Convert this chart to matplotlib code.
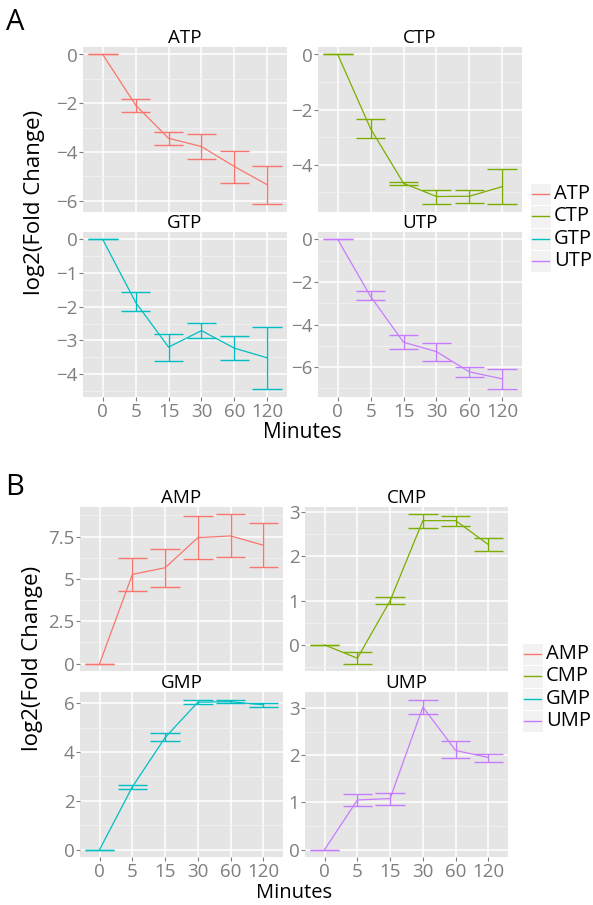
import matplotlib
matplotlib.use("Agg")
import matplotlib.pyplot as plt
from matplotlib.patches import Rectangle
from matplotlib.lines import Line2D
import numpy as np

plt.rcParams['font.family'] = ['Open Sans', 'DejaVu Sans']

minutes = ['0', '5', '15', '30', '60', '120']

# Panel A (triphosphates)
atp_mean = [0, -2.08, -3.44, -3.78, -4.60, -5.35]
atp_lo = [0, -2.38, -3.72, -4.30, -5.29, -6.16]
atp_hi = [0, -1.83, -3.20, -3.27, -3.95, -4.56]

ctp_mean = [0, -2.70, -4.68, -5.16, -5.15, -4.80]
ctp_lo = [0, -3.03, -4.74, -5.42, -5.41, -5.45]
ctp_hi = [0, -2.36, -4.62, -4.92, -4.92, -4.15]

gtp_mean = [0, -1.87, -3.20, -2.71, -3.23, -3.52]
gtp_lo = [0, -2.14, -3.62, -2.94, -3.59, -4.46]
gtp_hi = [0, -1.56, -2.81, -2.47, -2.88, -2.60]

utp_mean = [0, -2.68, -4.83, -5.27, -6.22, -6.55]
utp_lo = [0, -2.84, -5.17, -5.69, -6.46, -7.05]
utp_hi = [0, -2.41, -4.47, -4.88, -5.97, -6.10]

# Panel B (monophosphates)
amp_mean = [0, 5.27, 5.66, 7.44, 7.54, 6.99]
amp_lo = [0, 4.31, 4.54, 6.15, 6.27, 5.68]
amp_hi = [0, 6.23, 6.78, 8.69, 8.81, 8.32]

cmp_mean = [0, -0.30, 1.00, 2.81, 2.81, 2.27]
cmp_lo = [0, -0.42, 0.92, 2.64, 2.70, 2.13]
cmp_hi = [0, -0.17, 1.08, 2.95, 2.91, 2.41]

gmp_mean = [0, 2.57, 4.59, 6.04, 6.06, 5.93]
gmp_lo = [0, 2.50, 4.45, 5.95, 6.01, 5.84]
gmp_hi = [0, 2.66, 4.77, 6.15, 6.14, 6.00]

ump_mean = [0, 1.05, 1.08, 3.02, 2.10, 1.95]
ump_lo = [0, 0.93, 0.95, 2.87, 1.93, 1.86]
ump_hi = [0, 1.17, 1.20, 3.18, 2.29, 2.03]

colors = ['#F8766D', '#7CAE00', '#00BFC4', '#C77CFF']
names_a = ['ATP', 'CTP', 'GTP', 'UTP']
names_b = ['AMP', 'CMP', 'GMP', 'UMP']

W, H = 593, 905
fig = plt.figure(figsize=(W / 100, H / 100), dpi=100)


def add_ax(x0, y0, x1, y1):
    return fig.add_axes([x0 / W, 1 - y1 / H, (x1 - x0) / W, (y1 - y0) / H])


def panel(box, title, mean, lo, hi, color, yticks, ytlabels, show_x):
    ax = add_ax(*box)
    ax.set_facecolor('#E5E5E5')
    x = np.arange(1, len(minutes) + 1)
    lo = np.array(lo); hi = np.array(hi)
    ax.vlines(x, lo, hi, color=color, lw=1.0, zorder=3)
    ax.hlines(lo, x - 0.45, x + 0.45, color=color, lw=1.0, zorder=3)
    ax.hlines(hi, x - 0.45, x + 0.45, color=color, lw=1.0, zorder=3)
    ax.plot(x, mean, color=color, lw=0.9, zorder=4)
    ax.set_xticks(x)
    ax.set_yticks(yticks)
    ax.set_yticklabels(ytlabels)
    ym = [(yticks[i] + yticks[i + 1]) / 2 for i in range(len(yticks) - 1)]
    step = yticks[1] - yticks[0]
    ym = ym + [yticks[0] - step / 2, yticks[-1] + step / 2]
    ax.set_yticks(ym, minor=True)
    ymin, ymax = min(lo.min(), min(mean)), max(hi.max(), max(mean))
    pad = 0.05 * (ymax - ymin)
    ax.set_ylim(ymin - pad, ymax + pad)
    ax.set_xlim(0.4, len(minutes) + 0.6)
    ax.grid(which='major', color='white', lw=1.1, zorder=1)
    ax.grid(which='minor', axis='y', color='#F2F2F2', lw=0.6, zorder=0)
    ax.tick_params(which='minor', length=0)
    ax.set_axisbelow(True)
    for s in ax.spines.values():
        s.set_visible(False)
    ax.tick_params(axis='y', length=3, color='#7F7F7F', labelcolor='#7F7F7F',
                   labelsize=13.5, pad=1, width=0.8)
    if show_x:
        ax.set_xticklabels(minutes)
        ax.tick_params(axis='x', length=3, color='#7F7F7F', labelcolor='#7F7F7F',
                       labelsize=13.5, pad=1, width=0.8)
    else:
        ax.tick_params(axis='x', length=0, labelbottom=False)
    ax.set_title(title, fontsize=13.5, pad=1, color='black')
    return ax


def legend(x0, y0, names):
    kh = 22.3
    lax = add_ax(x0, y0, x0 + 63, y0 + kh * 4)
    lax.set_xlim(0, 63)
    lax.set_ylim(kh * 4, 0)
    lax.axis('off')
    for i, (n, c) in enumerate(zip(names, colors)):
        lax.add_patch(Rectangle((0, i * kh), 21, kh, facecolor='#F2F2F2',
                                edgecolor='white', lw=0.8))
        lax.add_line(Line2D([2, 19], [i * kh + kh / 2] * 2, color=c, lw=1.0))
        lax.text(24, i * kh + kh / 2, n, fontsize=14.5, va='center', ha='left')


# Panel A
mA = [atp_mean, ctp_mean, gtp_mean, utp_mean]
lA = [atp_lo, ctp_lo, gtp_lo, utp_lo]
hA = [atp_hi, ctp_hi, gtp_hi, utp_hi]
boxesA = [(83, 47, 287, 212), (318, 47, 522, 212), (83, 232, 287, 397), (318, 232, 522, 397)]
yt_A = [([-6, -4, -2, 0], ['\u22126', '\u22124', '\u22122', '0']),
        ([-4, -2, 0], ['\u22124', '\u22122', '0']),
        ([-4, -3, -2, -1, 0], ['\u22124', '\u22123', '\u22122', '\u22121', '0']),
        ([-6, -4, -2, 0], ['\u22126', '\u22124', '\u22122', '0'])]
for i in range(4):
    panel(boxesA[i], names_a[i], mA[i], lA[i], hA[i], colors[i],
          yt_A[i][0], yt_A[i][1], show_x=(i >= 2))
legend(530, 183, names_a)

# Panel B
mB = [amp_mean, cmp_mean, gmp_mean, ump_mean]
lB = [amp_lo, cmp_lo, gmp_lo, ump_lo]
hB = [amp_hi, cmp_hi, gmp_hi, ump_hi]
boxesB = [(80, 507, 283, 671), (305, 507, 508, 671), (80, 692, 283, 857), (305, 692, 508, 857)]
yt_B = [([0, 2.5, 5, 7.5], ['0', '2.5', '5', '7.5']),
        ([0, 1, 2, 3], ['0', '1', '2', '3']),
        ([0, 2, 4, 6], ['0', '2', '4', '6']),
        ([0, 1, 2, 3], ['0', '1', '2', '3'])]
for i in range(4):
    panel(boxesB[i], names_b[i], mB[i], lB[i], hB[i], colors[i],
          yt_B[i][0], yt_B[i][1], show_x=(i >= 2))
legend(522, 643, names_b)

# Labels
fig.text(15 / W, 1 - 22 / H, 'A', fontsize=21, ha='center', va='center')
fig.text(15 / W, 1 - 487 / H, 'B', fontsize=21, ha='center', va='center')
fig.text(35 / W, 1 - 202 / H, 'log2(Fold Change)', rotation=90, fontsize=16,
         ha='center', va='center')
fig.text(33 / W, 1 - 658 / H, 'log2(Fold Change)', rotation=90, fontsize=16,
         ha='center', va='center')
fig.text(302 / W, 1 - 433 / H, 'Minutes', fontsize=15, ha='center', va='center')
fig.text(294 / W, 1 - 893 / H, 'Minutes', fontsize=14.5, ha='center', va='center')

fig.savefig('out.png', dpi=100, facecolor='white')
